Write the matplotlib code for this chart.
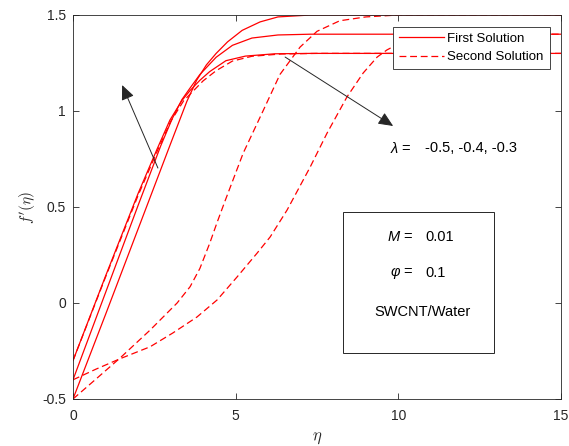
"""Velocity profiles f'(eta): first and second solutions for three lambda values."""

import matplotlib

matplotlib.use("Agg")
import matplotlib.pyplot as plt
from matplotlib.patches import Rectangle

# first solution (solid), one curve per lambda
eta_first_05 = [0, 1.0, 2.0, 3.0, 3.5, 3.8, 4.1, 4.4, 4.75, 5.2, 5.75, 6.3, 7.3, 15]
f_first_05 = [-0.5, -0.06, 0.385, 0.83, 1.05, 1.16, 1.24, 1.30, 1.36, 1.42, 1.464, 1.49, 1.5, 1.5]

eta_first_04 = [0, 1.0, 2.0, 2.7, 3.05, 3.35, 3.6, 3.9, 4.4, 4.9, 5.5, 6.3, 7.3, 15]
f_first_04 = [-0.4, 0.054, 0.508, 0.82, 0.96, 1.06, 1.12, 1.19, 1.28, 1.342, 1.38, 1.396, 1.4, 1.4]

eta_first_03 = [0, 1.0, 2.0, 2.58, 2.98, 3.35, 3.6, 3.9, 4.2, 4.7, 5.3, 6.2, 7.3, 15]
f_first_03 = [-0.3, 0.14, 0.57, 0.80, 0.953, 1.055, 1.107, 1.16, 1.205, 1.262, 1.286, 1.298, 1.3, 1.3]

# second solution (dashed)
eta_second_05 = [0, 0.7, 1.45, 2.37, 3.2, 3.6, 3.9, 4.2, 4.43, 4.67, 5.23, 5.84, 6.36,
                 6.98, 7.5, 8.2, 9.0, 10.0, 15]
f_second_05 = [-0.5, -0.397, -0.286, -0.141, 0.0, 0.085, 0.18, 0.31, 0.42, 0.53, 0.78, 1.0,
               1.19, 1.333, 1.415, 1.47, 1.49, 1.5, 1.5]

eta_second_04 = [0, 0.7, 1.45, 2.37, 3.07, 3.81, 4.43, 5.04, 5.66, 6.06, 6.58, 7.29, 7.81,
                 8.42, 8.92, 9.35, 9.65, 10.05, 10.67, 11.6, 12.8, 15]
f_second_04 = [-0.4, -0.345, -0.29, -0.228, -0.156, -0.073, 0.016, 0.135, 0.26, 0.344, 0.484,
               0.708, 0.885, 1.073, 1.198, 1.281, 1.318, 1.354, 1.38, 1.396, 1.4, 1.4]

eta_second_03 = [0, 1.0, 2.0, 2.6, 3.0, 3.4, 3.7, 4.0, 4.4, 4.9, 5.5, 6.4, 7.5, 15]
f_second_03 = [-0.3, 0.135, 0.56, 0.795, 0.945, 1.053, 1.105, 1.157, 1.21, 1.26, 1.285, 1.297, 1.3, 1.3]

x_ticks = [0, 5, 10, 15]
y_ticks = [-0.5, 0, 0.5, 1, 1.5]
lambda_text = "-0.5, -0.4, -0.3"
m_text = "0.01"
phi_text = "0.1"
fluid_text = "SWCNT/Water"

DARK = "#262626"


def main() -> None:
    plt.rcParams["font.family"] = ["Liberation Sans", "DejaVu Sans"]
    plt.rcParams["mathtext.fontset"] = "custom"
    plt.rcParams["mathtext.it"] = "Liberation Sans:italic"
    plt.rcParams["mathtext.rm"] = "Liberation Sans"

    fig = plt.figure(figsize=(5.69, 4.46), dpi=100)
    ax = fig.add_axes([73 / 569, 47 / 446, 488 / 569, 384 / 446])

    solid = dict(color="red", linewidth=0.9)
    dashed = dict(color="red", linewidth=0.9, linestyle=(0, (5.5, 3)))

    ax.plot(eta_first_05, f_first_05, label="First Solution", **solid)
    ax.plot(eta_first_04, f_first_04, **solid)
    ax.plot(eta_first_03, f_first_03, **solid)
    ax.plot(eta_second_05, f_second_05, label="Second Solution", **dashed)
    ax.plot(eta_second_04, f_second_04, **dashed)
    ax.plot(eta_second_03, f_second_03, **dashed)

    ax.set_xlim(0, 15)
    ax.set_ylim(-0.5, 1.5)
    ax.set_xticks(x_ticks)
    ax.set_yticks(y_ticks)
    ax.set_xticklabels([f"{t:g}" for t in x_ticks])
    ax.set_yticklabels([f"{t:g}" for t in y_ticks])
    ax.tick_params(direction="in", top=True, right=True, length=4, width=0.6,
                   color=DARK, labelcolor=DARK, labelsize=10)
    ax.tick_params(axis="x", pad=7)
    ax.tick_params(axis="y", pad=5)
    for spine in ax.spines.values():
        spine.set_color(DARK)
        spine.set_linewidth(0.6)

    ax.set_xlabel(r"$\eta$", fontsize=12, math_fontfamily="cm", color=DARK)
    ax.set_ylabel(r"$f^{\prime}(\eta)$", fontsize=11, math_fontfamily="cm", color=DARK)
    ax.xaxis.set_label_coords(0.5, -0.083)
    ax.yaxis.set_label_coords(-0.072, 0.5)

    arrow_style = dict(arrowstyle="-|>,head_length=0.45,head_width=0.2", color=DARK,
                       lw=0.7, shrinkA=0, shrinkB=0, mutation_scale=20)
    ax.annotate("", xy=(1.51, 1.135), xytext=(2.61, 0.703), arrowprops=arrow_style)
    ax.annotate("", xy=(9.84, 0.922), xytext=(6.52, 1.281), arrowprops=arrow_style)

    text_kw = dict(fontsize=10.5, va="center", ha="left", color="black")
    ax.text(9.74, 0.807, r"$\lambda$ =", **text_kw)
    ax.text(10.82, 0.807, lambda_text, **text_kw)

    ax.add_patch(Rectangle((8.30, -0.26), 4.64, 0.734, fill=False,
                           edgecolor=DARK, linewidth=0.7))
    ax.text(9.65, 0.344, r"$M$ =", **text_kw)
    ax.text(10.82, 0.344, m_text, **text_kw)
    ax.text(9.74, 0.156, r"$\varphi$ =", **text_kw)
    ax.text(10.82, 0.156, phi_text, **text_kw)
    ax.text(9.25, -0.047, fluid_text, **text_kw)

    leg = ax.legend(loc="upper right", bbox_to_anchor=(0.977, 0.969), borderaxespad=0,
                    fontsize=9.5, handlelength=3.4, handletextpad=0.3,
                    labelspacing=0.45, borderpad=0.45, fancybox=False, framealpha=1)
    leg.get_frame().set_edgecolor(DARK)
    leg.get_frame().set_linewidth(0.6)

    fig.savefig("out.png", dpi=100)
    plt.close(fig)


if __name__ == "__main__":
    main()
